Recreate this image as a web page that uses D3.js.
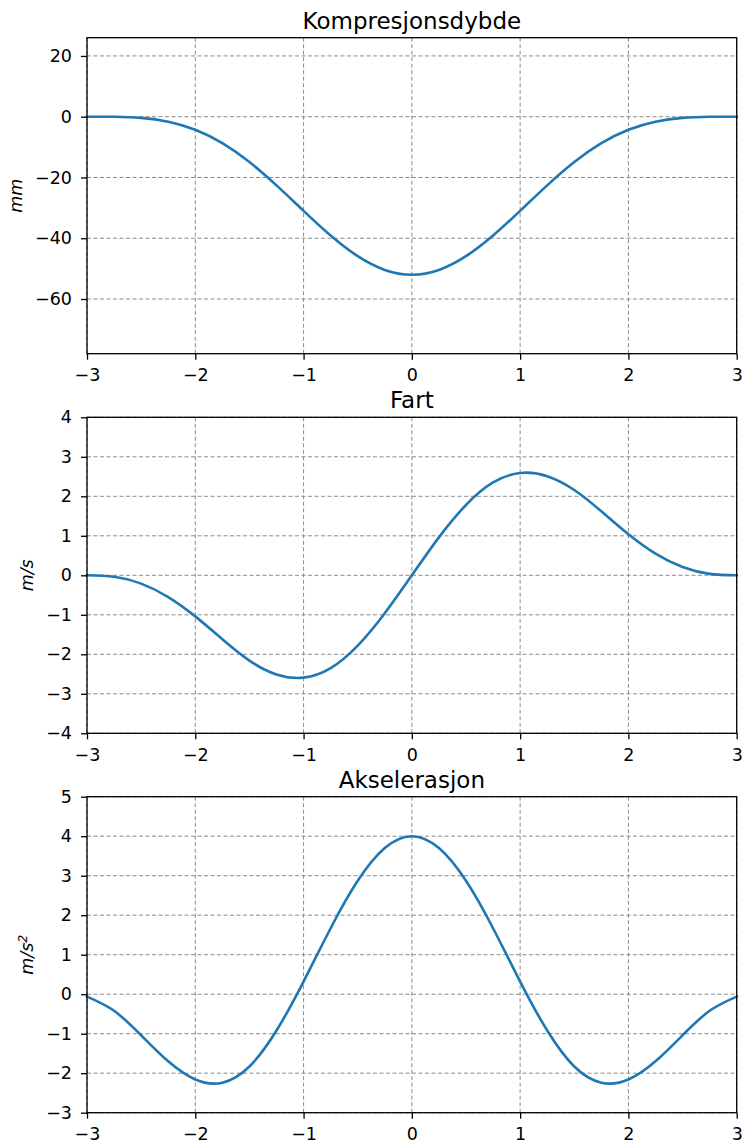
<!DOCTYPE html>
<html>
<head>
<meta charset="utf-8">
<script src="https://cdn.jsdelivr.net/npm/d3@7"></script>
<style>
  html, body { margin: 0; padding: 0; background: #ffffff; }
  svg { display: block; font-family: "DejaVu Sans", sans-serif; }
</style>
</head>
<body>
<script>
// ---- data ----
const timeValues = [-3, -2.75, -2.5, -2.25, -2, -1.75, -1.5, -1.25, -1, -0.75, -0.5, -0.25, 0,
                    0.25, 0.5, 0.75, 1, 1.25, 1.5, 1.75, 2, 2.25, 2.5, 2.75, 3];
const depthValues = [0, -0.03, -0.40, -1.64, -4.29, -8.71, -14.93, -22.60, -30.98, -39.10, -45.90, -50.42, -52,
                     -50.42, -45.90, -39.10, -30.98, -22.60, -14.93, -8.71, -4.29, -1.64, -0.40, -0.03, 0];
const velocityValues = [0, -0.037, -0.21, -0.55, -1.04, -1.62, -2.16, -2.51, -2.59, -2.35, -1.78, -0.96, 0,
                        0.96, 1.78, 2.35, 2.59, 2.51, 2.16, 1.62, 1.04, 0.55, 0.21, 0.037, 0];
const accelValues = [-0.06, -0.42, -1.04, -1.70, -2.16, -2.24, -1.83, -0.92, 0.32, 1.67, 2.87, 3.70, 4.0,
                     3.70, 2.87, 1.67, 0.32, -0.92, -1.83, -2.24, -2.16, -1.70, -1.04, -0.42, -0.06];

const xTicks = [-3, -2, -1, 0, 1, 2, 3];
const depthTicks = [-60, -40, -20, 0, 20];
const velocityTicks = [-4, -3, -2, -1, 0, 1, 2, 3, 4];
const accelTicks = [-3, -2, -1, 0, 1, 2, 3, 4, 5];

const titles = ["Kompresjonsdybde", "Fart", "Akselerasjon"];
const yLabels = ["mm", "m/s", "m/s2"];

// ---- layout ----
const W = 744, H = 1145;
const left = 87, right = 736.7;
const panelTops = [37.7, 417.3, 796.7];
const panelH = 316;

const svg = d3.select("body").append("svg").attr("width", W).attr("height", H);

const x = d3.scaleLinear().domain([-3, 3]).range([left, right]);

const panels = [
  { title: titles[0], values: depthValues, domain: [-78, 26], ticks: depthTicks, label: yLabels[0], labelX: 22 },
  { title: titles[1], values: velocityValues, domain: [-4, 4], ticks: velocityTicks, label: yLabels[1], labelX: 33 },
  { title: titles[2], values: accelValues, domain: [-3, 5], ticks: accelTicks, label: yLabels[2], labelX: 33 }
];

const fmt = d => d3.format("")(d);

panels.forEach((p, i) => {
  const top = panelTops[i];
  const bottom = top + panelH;
  const y = d3.scaleLinear().domain(p.domain).range([bottom, top]);
  const g = svg.append("g");

  // grid
  g.append("g").selectAll("line").data(xTicks).join("line")
    .attr("x1", d => x(d)).attr("x2", d => x(d))
    .attr("y1", top).attr("y2", bottom)
    .attr("stroke", "#8c8c8c").attr("stroke-width", 1).attr("stroke-dasharray", "4,2.5");
  g.append("g").selectAll("line").data(p.ticks).join("line")
    .attr("x1", left).attr("x2", right)
    .attr("y1", d => y(d)).attr("y2", d => y(d))
    .attr("stroke", "#8c8c8c").attr("stroke-width", 1).attr("stroke-dasharray", "4,2.5");

  // line
  const pts = timeValues.map((t, k) => [t, p.values[k]]);
  const line = d3.line().x(d => x(d[0])).y(d => y(d[1])).curve(d3.curveNatural);
  g.append("path").datum(pts).attr("d", line)
    .attr("fill", "none").attr("stroke", "#1f77b4").attr("stroke-width", 2.6)
    .attr("stroke-linejoin", "round").attr("stroke-linecap", "square");

  // axes
  const xAxis = d3.axisBottom(x).tickValues(xTicks).tickSize(6).tickPadding(9).tickFormat(fmt);
  const yAxis = d3.axisLeft(y).tickValues(p.ticks).tickSize(6).tickPadding(9).tickFormat(fmt);
  const gx = g.append("g").attr("transform", `translate(0,${bottom})`).call(xAxis);
  const gy = g.append("g").attr("transform", `translate(${left},0)`).call(yAxis);
  [gx, gy].forEach(a => {
    a.select(".domain").remove();
    a.selectAll(".tick line").attr("stroke", "#000").attr("stroke-width", 1.3);
    a.selectAll(".tick text").attr("fill", "#000").style("font-size", "17.5px")
      .style("font-family", "'DejaVu Sans', sans-serif");
  });
  gx.selectAll(".tick text").attr("dy", "0.72em");

  // spines
  g.append("rect").attr("x", left).attr("y", top).attr("width", right - left).attr("height", panelH)
    .attr("fill", "none").attr("stroke", "#000").attr("stroke-width", 1.3);

  // title
  g.append("text").attr("x", (left + right) / 2).attr("y", top - 9)
    .attr("text-anchor", "middle").style("font-size", "23px").attr("fill", "#000").text(p.title);

  // y label
  const lab = g.append("text")
    .attr("transform", `translate(${p.labelX},${(top + bottom) / 2}) rotate(-90)`)
    .attr("text-anchor", "middle").style("font-size", "17.5px").style("font-style", "italic")
    .attr("fill", "#000");
  if (p.label === "m/s2") {
    lab.append("tspan").text("m/s");
    lab.append("tspan").attr("dy", "-0.45em").style("font-size", "12.5px").text("2");
  } else {
    lab.text(p.label);
  }
});
</script>
</body>
</html>
